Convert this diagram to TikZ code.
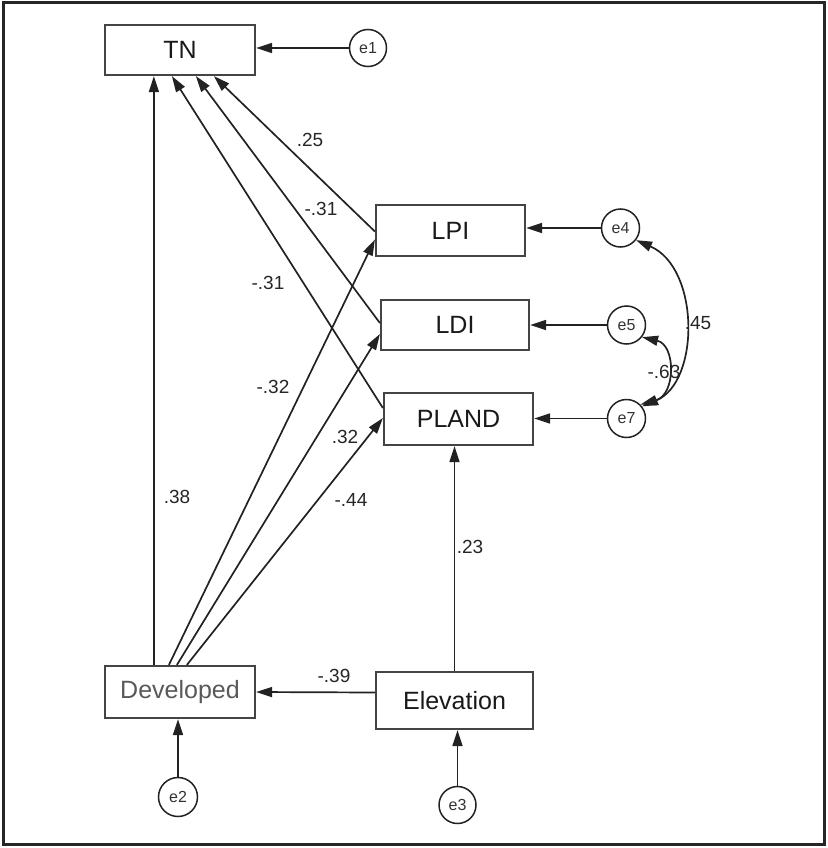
\documentclass[tikz,border=0pt]{standalone}
\usepackage{fontspec}
\setmainfont{Liberation Sans}
\usetikzlibrary{arrows.meta,calc}
\definecolor{ln}{HTML}{222222}
\definecolor{bx}{HTML}{444444}
\tikzset{
  box/.style={draw=bx, line width=2.2pt, rectangle, inner sep=0pt, font=\fontsize{25}{29}\selectfont, text=black!90},
  err/.style={draw=ln, line width=1.5pt, circle, minimum size=37pt, inner sep=0pt, font=\fontsize{16}{19}\selectfont, text=black!80},
  lab/.style={font=\fontsize{19}{22}\selectfont, text=black!85, inner sep=1pt},
  arr/.style={draw=ln, line width=1.7pt, -{Triangle[length=16pt,width=10pt]}},
  darr/.style={draw=ln, line width=1.7pt, {Triangle[length=16pt,width=10pt]}-{Triangle[length=16pt,width=10pt]}},
  frame/.style={draw=black!85, line width=3pt}
}
\begin{document}
\begin{tikzpicture}[x=1pt,y=-1pt]
\useasboundingbox (0,0) rectangle (827,848);
\draw[frame] (3,3) rectangle (824,844);

\node[box, minimum width=150pt, minimum height=50pt] (TN) at (180,50) {TN};
\node[box, minimum width=149pt, minimum height=51pt] (LPI) at (450.5,230.5) {LPI};
\node[box, minimum width=148pt, minimum height=50pt] (LDI) at (455,325) {LDI};
\node[box, minimum width=149pt, minimum height=52pt] (PLAND) at (458.5,419) {PLAND};
\node[box, minimum width=150pt, minimum height=52pt, text=black!65] (Dev) at (180,692) {Developed};
\node[box, minimum width=157pt, minimum height=57pt] (Elev) at (454.5,700.5) {Elevation};

\node[err] (e1) at (368,48) {e1};
\node[err, minimum size=39pt] (e2) at (178,797) {e2};
\node[err] (e3) at (457.5,805) {e3};
\node[err, minimum size=38pt] (e4) at (620.5,228) {e4};
\node[err, minimum size=38pt] (e5) at (626.5,325) {e5};
\node[err, minimum size=38pt] (e7) at (626.5,418.5) {e7};

% error arrows
\draw[arr] (e1.west) -- (e1 -| TN.east);
\draw[arr] (e2.north) -- (e2 |- Dev.south);
\draw[arr] (e3.north) -- (e3 |- Elev.south);
\draw[arr] (e4.west) -- (e4 -| LPI.east);
\draw[arr] (e5.west) -- (e5 -| LDI.east);
\draw[arr] (e7.west) -- (e7 -| PLAND.east);

% Developed paths
\draw[arr] ($(Dev.north west)+(50,0)$) -- ($(TN.south west)+(50,0)$);
\draw[arr] ($(Dev.north west)+(65,0)$) -- ($(LPI.west)+(0,9)$);
\draw[arr] ($(Dev.north west)+(73,0)$) -- ($(LDI.west)+(0,9)$);
\draw[arr] ($(Dev.north west)+(83,0)$) -- ($(PLAND.west)+(0,-1)$);

% mediators to TN
\draw[arr] ($(LPI.west)+(0,1)$) -- ($(TN.south west)+(110,0)$);
\draw[arr] ($(LDI.west)+(0,-2)$) -- ($(TN.south west)+(92,0)$);
\draw[arr] ($(PLAND.west)+(0,-11)$) -- ($(TN.south west)+(68,0)$);

% Elevation paths
\draw[arr] ($(Elev.west)+(0,-8)$) -- (Dev.east);
\draw[arr] (Elev.north) -- (Elev.north |- PLAND.south);

% correlations
\draw[darr] (e4.-38) .. controls (700,268) and (700,382) .. (e7.38);
\draw[darr] (e5.-38) .. controls (676,345) and (676,395) .. (e7.45);

% labels
\node[lab] (l1) at (310,140) {.25};
\node[lab] (l2) at (321,209) {-.31};
\node[lab] (l3) at (268,283) {-.31};
\node[lab] (l4) at (273,387) {-.32};
\node[lab] (l5) at (345,437) {.32};
\node[lab] (l6) at (351,500) {-.44};
\node[lab] (l7) at (177,497) {.38};
\node[lab] (l8) at (470,547) {.23};
\node[lab] (l9) at (334,676) {-.39};
\node[lab] (l10) at (698,323) {.45};
\node[lab] (l11) at (664,372) {-.63};
\end{tikzpicture}
\end{document}
